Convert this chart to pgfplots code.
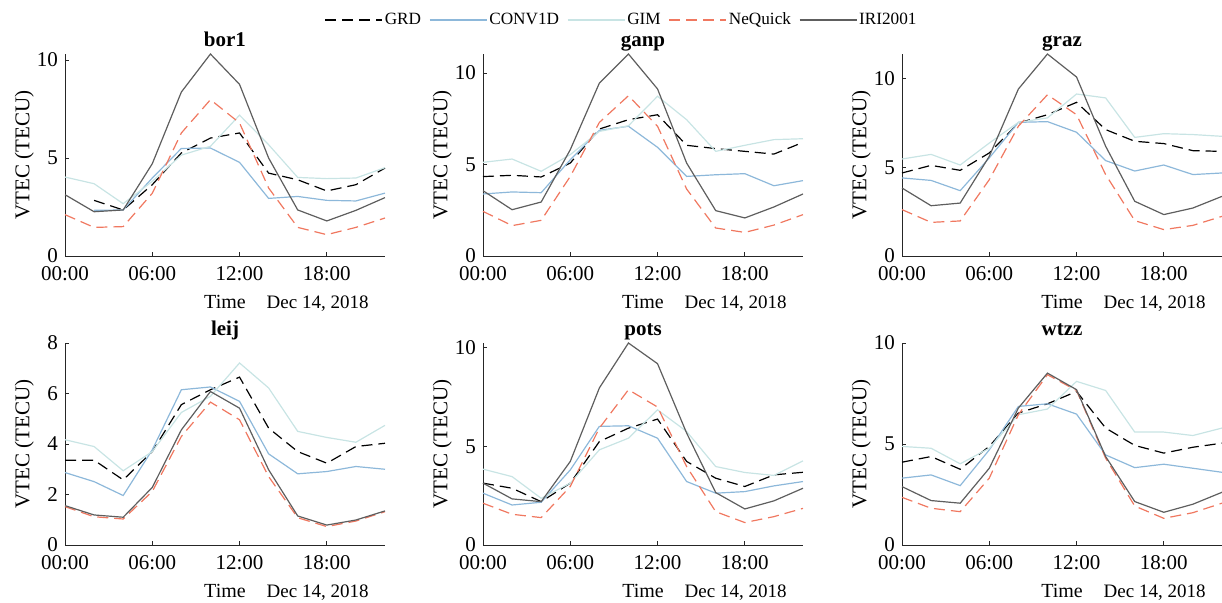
\documentclass[border=0pt]{standalone}
\usepackage{fontspec}
\setmainfont{Liberation Serif}
\usepackage{pgfplots}
\usepackage{pgfplotstable}
\pgfplotsset{compat=1.18}

\definecolor{cCONV}{HTML}{8DB8DA}
\definecolor{cGIM}{HTML}{C8E4E4}
\definecolor{cNEQ}{HTML}{F07860}
\definecolor{cIRI}{HTML}{5E5E5E}

% t = hour of day, values in TECU
\pgfplotstableread{
t  grd  conv gim  neq  iri
0  nan  nan  4.03 2.11 3.13
2  2.84 2.33 3.69 1.46 2.26
4  2.35 2.35 2.67 1.50 2.35
6  3.64 3.98 3.81 3.20 4.71
8  5.26 5.49 5.15 6.28 8.37
10 6.02 5.51 5.60 7.98 10.31
12 6.28 4.78 7.19 6.79 8.76
14 4.23 2.94 5.68 3.47 5.00
16 3.89 3.04 4.01 1.46 2.35
18 3.32 2.84 3.95 1.09 1.79
20 3.64 2.81 3.98 1.46 2.33
22 4.49 3.21 4.51 1.94 2.98
}\borone

\pgfplotstableread{
t  grd  conv gim  neq  iri
0  4.34 3.39 5.12 2.44 3.57
2  4.41 3.50 5.30 1.66 2.53
4  4.32 3.46 4.63 1.95 2.95
6  5.08 5.26 5.54 4.35 5.81
8  6.94 6.87 6.81 7.30 9.45
10 7.45 7.09 7.12 8.76 11.04
12 7.72 5.94 8.73 7.09 9.13
14 6.05 4.35 7.45 3.66 5.08
16 5.87 4.44 5.72 1.53 2.48
18 5.72 4.50 6.05 1.29 2.08
20 5.57 3.84 6.36 1.69 2.68
22 6.21 4.12 6.41 2.26 3.39
}\ganp

\pgfplotstableread{
t  grd  conv gim  neq  iri
0  4.69 4.41 5.48 2.62 3.84
2  5.12 4.27 5.74 1.90 2.84
4  4.84 3.69 5.14 1.98 2.99
6  5.82 5.54 6.38 4.31 5.63
8  7.51 7.55 7.55 7.33 9.43
10 7.98 7.59 7.80 9.11 11.41
12 8.68 6.99 9.15 7.98 10.11
14 7.14 5.39 8.93 4.60 6.20
16 6.48 4.80 6.70 2.00 3.09
18 6.35 5.14 6.91 1.49 2.34
20 5.95 4.60 6.86 1.73 2.71
22 5.91 4.69 6.76 2.24 3.37
}\graz

\pgfplotstableread{
t  grd  conv gim  neq  iri
0  3.36 2.87 4.17 1.52 1.56
2  3.36 2.51 3.90 1.12 1.19
4  2.58 1.96 2.94 1.03 1.10
6  3.70 3.77 3.70 2.12 2.28
8  5.56 6.15 5.25 4.30 4.56
10 6.15 6.26 5.89 5.66 6.08
12 6.65 5.69 7.21 4.96 5.42
14 4.63 3.61 6.22 2.71 2.98
16 3.70 2.82 4.50 1.08 1.15
18 3.24 2.91 4.26 0.73 0.79
20 3.90 3.11 4.07 0.95 0.99
22 4.03 3.00 4.74 1.32 1.35
}\leij

\pgfplotstableread{
t  grd  conv gim  neq  iri
0  3.14 2.63 3.85 2.12 3.14
2  2.88 2.03 3.47 1.56 2.34
4  2.20 2.17 2.37 1.39 2.20
6  3.14 3.81 3.14 2.97 4.24
8  5.25 6.02 4.83 5.93 7.97
10 5.93 6.05 5.42 7.88 10.25
12 6.39 5.42 6.86 7.00 9.20
14 4.24 3.22 5.76 3.98 5.68
16 3.39 2.63 3.98 1.69 2.66
18 2.97 2.71 3.68 1.14 1.83
20 3.56 3.00 3.53 1.44 2.24
22 3.69 3.22 4.27 1.86 2.88
}\pots

\pgfplotstableread{
t  grd  conv gim  neq  iri
0  4.10 3.31 4.88 2.36 2.89
2  4.38 3.47 4.79 1.82 2.20
4  3.75 2.94 4.02 1.65 2.07
6  4.88 4.71 4.79 3.31 3.80
8  6.53 6.86 6.45 6.45 6.78
10 6.99 6.99 6.73 8.43 8.51
12 7.60 6.48 8.10 7.65 7.69
14 5.79 4.46 7.65 4.30 4.38
16 4.93 3.83 5.59 1.93 2.15
18 4.55 4.00 5.59 1.32 1.62
20 4.84 3.80 5.42 1.60 2.02
22 5.04 3.60 5.79 2.07 2.61
}\wtzz

\pgfplotsset{
  panel/.style={
    scale only axis, width=160pt, height=101pt,
    anchor=south west,
    xmin=0, xmax=22, ymin=0,
    axis x line*=bottom, axis y line*=left,
    axis line style={-, black!85, line width=0.5pt},
    tick align=inside, major tick length=2pt,
    tick style={black!85, line width=0.5pt},
    xtick={0,6,12,18}, xticklabels={00:00,06:00,12:00,18:00},
    ticklabel style={font=\fontsize{10.5}{12}\selectfont},
    xticklabel style={yshift=-1.5pt},
    /pgf/number format/assume math mode=true,
    ylabel={VTEC (TECU)},
    ylabel style={font=\fontsize{10.5}{12}\selectfont, at={(axis description cs:-0.075,0.5)}, anchor=south},
    every axis title shift=0pt,
    title style={font=\bfseries\fontsize{10.5}{12}\selectfont, at={(axis description cs:0.5,1)}, anchor=base, yshift=3.7pt},
    xlabel={Time},
    xlabel style={font=\fontsize{10}{12}\selectfont, at={(axis description cs:0.5,0)}, anchor=base, yshift=-26pt},
    clip=false,
    unbounded coords=jump,
    every axis plot/.append style={line width=0.6pt},
    extra description/.code={\node[anchor=base east, font=\fontsize{9.5}{11}\selectfont] at ([xshift=-4.7pt,yshift=-26pt]axis description cs:1,0) {Dec 14, 2018};},
  },
  grd/.style={black, dash pattern=on 5.5pt off 3pt},
  conv/.style={cCONV},
  gim/.style={cGIM},
  neq/.style={cNEQ, dash pattern=on 5.5pt off 3pt},
  iri/.style={cIRI},
}

\newcommand{\fiveplots}[1]{%
  \addplot[grd] table[x=t, y=grd] {#1};
  \addplot[conv] table[x=t, y=conv] {#1};
  \addplot[gim] table[x=t, y=gim] {#1};
  \addplot[neq] table[x=t, y=neq] {#1};
  \addplot[iri] table[x=t, y=iri] {#1};
}

\begin{document}
\begin{tikzpicture}
\begin{axis}[panel, at={(32.5pt,173pt)}, title={bor1}, ymax=10.31, ytick={0,5,10}]
\fiveplots{\borone}
\end{axis}
\begin{axis}[panel, at={(241.5pt,173pt)}, title={ganp}, ymax=11.04, ytick={0,5,10},
  legend style={at={(0.433,1.168)}, anchor=center, draw=none, fill=none,
    legend columns=5, font=\fontsize{8.6}{10}\selectfont,
    nodes={inner xsep=1pt},
    /tikz/every even column/.append style={column sep=3pt}},
  legend image code/.code={\draw[#1] (0pt,0pt) -- (28.5pt,0pt);}]
\fiveplots{\ganp}
\legend{GRD, CONV1D, GIM, NeQuick, IRI2001}
\end{axis}
\begin{axis}[panel, at={(451pt,173pt)}, title={graz}, ymax=11.41, ytick={0,5,10}]
\fiveplots{\graz}
\end{axis}
\begin{axis}[panel, at={(32.5pt,28.5pt)}, title={leij}, ymax=8, ytick={0,2,4,6,8}]
\fiveplots{\leij}
\end{axis}
\begin{axis}[panel, at={(241.5pt,28.5pt)}, title={pots}, ymax=10.25, ytick={0,5,10}]
\fiveplots{\pots}
\end{axis}
\begin{axis}[panel, at={(451pt,28.5pt)}, title={wtzz}, ymax=10, ytick={0,5,10}]
\fiveplots{\wtzz}
\end{axis}
\pgfresetboundingbox
\path (0,0) rectangle (611pt,301pt);
\end{tikzpicture}
\end{document}
